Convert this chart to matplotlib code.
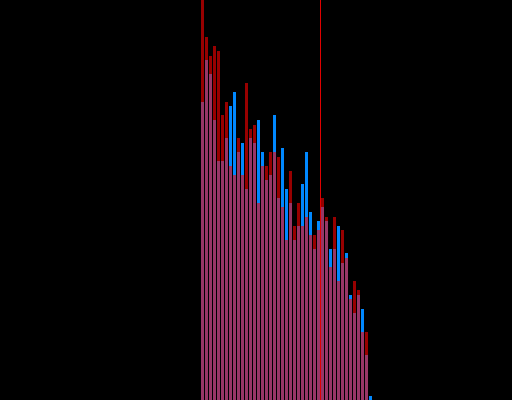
import numpy as np
import matplotlib
matplotlib.use('Agg')
import matplotlib.pyplot as plt

# bar heights (baseline 0, top of frame 400)
blue_vals = [298, 340, 326, 280, 239, 239, 262, 294, 308, 248, 257, 211, 262, 257, 280,
             248, 220, 225, 285, 202, 252, 211, 197, 160, 174, 216, 248, 188, 151, 179,
             193, 179, 151, 151, 174, 137, 147, 105, 87, 105, 91, 45, 4]
red_vals = [400, 363, 344, 354, 349, 285, 298, 234, 225, 262, 225, 317, 271, 275, 197,
            234, 234, 248, 248, 243, 193, 160, 229, 174, 197, 174, 183, 165, 165, 170,
            202, 183, 133, 183, 119, 170, 142, 101, 119, 110, 68, 68, 0]
marker_x = 29.5

idx = np.arange(len(blue_vals))

fig = plt.figure(figsize=(5.12, 4.0), dpi=100, facecolor='black')
ax = fig.add_axes([0, 0, 1, 1])
ax.set_facecolor('black')

ax.bar(idx, blue_vals, width=0.75, color='#0088ff', antialiased=False)
ax.bar(idx, red_vals, width=0.75, color='red', alpha=0.6, antialiased=False)
# thin marker line, drawn as a one-pixel-wide span so it stays crisp
ax.axvspan(marker_x - 0.125, marker_x + 0.125, color='#e00000', linewidth=0,
           antialiased=False)

ax.set_xlim(-50.625, 77.375)
ax.set_ylim(0, 400)
ax.axis('off')

fig.savefig('out.png', dpi=100, facecolor='black')
